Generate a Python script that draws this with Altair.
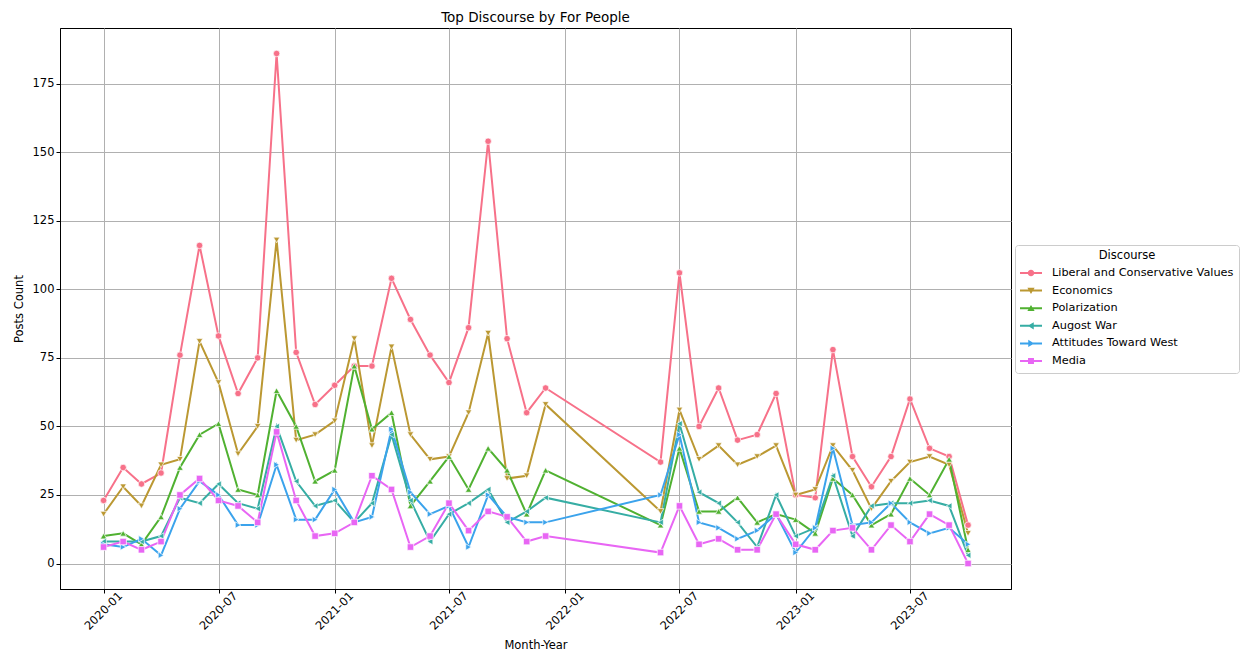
import altair as alt
import pandas as pd

months = [
    "2020-01", "2020-02", "2020-03", "2020-04", "2020-05", "2020-06",
    "2020-07", "2020-08", "2020-09", "2020-10", "2020-11", "2020-12",
    "2021-01", "2021-02", "2021-03", "2021-04", "2021-05", "2021-06",
    "2021-07", "2021-08", "2021-09", "2021-10", "2021-11", "2021-12",
    "2022-06", "2022-07", "2022-08", "2022-09", "2022-10", "2022-11", "2022-12",
    "2023-01", "2023-02", "2023-03", "2023-04", "2023-05", "2023-06",
    "2023-07", "2023-08", "2023-09", "2023-10",
]

liberal = [23, 35, 29, 33, 76, 116, 83, 62, 75, 186, 77, 58,
           65, 72, 72, 104, 89, 76, 66, 86, 154, 82, 55, 64,
           37, 106, 50, 64, 45, 47, 62,
           25, 24, 78, 39, 28, 39, 60, 42, 39, 14]
economics = [18, 28, 21, 36, 38, 81, 66, 40, 50, 118, 45, 47,
             52, 82, 43, 79, 47, 38, 39, 55, 84, 31, 32, 58,
             19, 56, 38, 43, 36, 39, 43,
             25, 27, 43, 34, 20, 30, 37, 39, 36, 11]
polarization = [10, 11, 7, 17, 35, 47, 51, 27, 25, 63, 50, 30,
                34, 72, 49, 55, 21, 30, 39, 27, 42, 34, 18, 34,
                14, 42, 19, 19, 24, 15, 18,
                16, 11, 31, 25, 14, 18, 31, 25, 38, 5]
augost_war = [8, 8, 8, 10, 24, 22, 29, 22, 20, 50, 30, 21,
              23, 15, 22, 47, 23, 8, 18, 22, 27, 15, 19, 24,
              15, 51, 26, 22, 15, 6, 25,
              10, 13, 32, 10, 21, 22, 22, 23, 21, 3]
attitudes_west = [7, 6, 9, 3, 20, 30, 25, 14, 14, 36, 16, 16,
                  27, 15, 17, 49, 26, 18, 21, 6, 25, 17, 15, 15,
                  25, 47, 15, 13, 9, 12, 18,
                  4, 13, 42, 14, 15, 22, 15, 11, 13, 7]
media = [6, 8, 5, 8, 25, 31, 23, 21, 15, 48, 23, 10,
         11, 15, 32, 27, 6, 10, 22, 12, 19, 17, 8, 10,
         4, 21, 7, 9, 5, 5, 18,
         7, 5, 12, 13, 5, 14, 8, 18, 14, 0]

series_names = ["Liberal and Conservative Values", "Economics", "Polarization",
                "Augost War", "Attitudes Toward West", "Media"]
series_values = [liberal, economics, polarization, augost_war, attitudes_west, media]
colors = ["#f77189", "#bb9832", "#50b131", "#36ada4", "#3ba3ec", "#e866f4"]
shapes = ["circle", "triangle-down", "triangle-up", "triangle-left", "triangle-right", "square"]
y_ticks = [0, 25, 50, 75, 100, 125, 150, 175]
x_tick_months = [(2020, 1), (2020, 7), (2021, 1), (2021, 7), (2022, 1), (2022, 7), (2023, 1), (2023, 7)]

# legend glyphs: a short line with the marker on it (unit square -1..1)
LINE = "M-1,-0.09 L1,-0.09 L1,0.09 L-1,0.09 Z "
legend_glyphs = [
    LINE + "M-0.3,0 A0.3,0.3 0 1,1 0.3,0 A0.3,0.3 0 1,1 -0.3,0 Z",
    LINE + "M-0.33,-0.25 L0.33,-0.25 L0,0.3 Z",
    LINE + "M0,-0.3 L0.33,0.25 L-0.33,0.25 Z",
    LINE + "M0.25,-0.33 L0.25,0.33 L-0.3,0 Z",
    LINE + "M-0.25,-0.33 L0.3,0 L-0.25,0.33 Z",
    LINE + "M-0.27,-0.27 L0.27,-0.27 L0.27,0.27 L-0.27,0.27 Z",
]

rows = []
for name, vals in zip(series_names, series_values):
    for m, v in zip(months, vals):
        rows.append({"Month": m + "-01", "Discourse": name, "Posts": v})
df = pd.DataFrame(rows)

FONT = "DejaVu Sans"

x_enc = alt.X(
    "Month:T",
    title="Month-Year",
    scale=alt.Scale(
        type="utc",
        domain=[alt.DateTime(year=2019, month=10, date=24, utc=True),
                alt.DateTime(year=2023, month=12, date=8, utc=True)],
    ),
    axis=alt.Axis(
        values=[alt.DateTime(year=yy, month=mm, date=1, utc=True) for yy, mm in x_tick_months],
        labelExpr="utcFormat(datum.value, '%Y-%m')",
        labelAngle=315,
        labelAlign="center",
        labelBaseline="middle",
        labelPadding=18,
        titleY=56,
        titleBaseline="middle",
    ),
)
y_enc = alt.Y(
    "Posts:Q",
    title="Posts Count",
    scale=alt.Scale(domain=[-9.3, 195.3], nice=False, zero=False),
    axis=alt.Axis(values=y_ticks, titlePadding=8),
)

color_scale = alt.Scale(domain=series_names, range=colors)

lines = alt.Chart(df).mark_line(strokeWidth=2).encode(
    x=x_enc, y=y_enc, color=alt.Color("Discourse:N", scale=color_scale, legend=None)
)
points = alt.Chart(df).mark_point(filled=True, size=42, stroke="white", strokeWidth=0.7, opacity=1).encode(
    x=x_enc, y=y_enc,
    color=alt.Color("Discourse:N", scale=color_scale, legend=None),
    shape=alt.Shape("Discourse:N", scale=alt.Scale(domain=series_names, range=shapes), legend=None),
)
# legend-only layer: no rows drawn, its scales carry the legend entries
legend_layer = alt.Chart(df).transform_filter("false").mark_point(filled=True, opacity=1).encode(
    x=x_enc, y=y_enc,
    color=alt.Color(
        "Discourse:N", scale=color_scale,
        legend=alt.Legend(
            title="Discourse",
            orient="none",
            legendX=955,
            legendY=217,
            titleAnchor="middle",
            titleAlign="center",
            titleFontWeight="normal",
            titleFontSize=11.5,
            titleFont=FONT,
            titleColor="black",
            titlePadding=5,
            labelFontSize=11.3,
            labelFont=FONT,
            labelColor="black",
            labelLimit=400,
            labelOffset=10,
            padding=5,
            rowPadding=4.6,
            clipHeight=13,
            symbolSize=484,
            symbolOpacity=1,
            symbolStrokeWidth=0,
            symbolOffset=0,
            strokeColor="#cccccc",
            cornerRadius=3,
        ),
    ),
    shape=alt.Shape("Discourse:N", scale=alt.Scale(domain=series_names, range=legend_glyphs)),
)

chart = (
    alt.layer(lines, points, legend_layer)
    .resolve_scale(color="independent", shape="independent")
    .resolve_legend(color="independent", shape="independent")
    .properties(
        width=951,
        height=561,
        title=alt.TitleParams("Top Discourse by For People", fontSize=13.5, fontWeight="normal",
                              font=FONT, color="black", anchor="middle", offset=4),
        autosize=alt.AutoSizeParams(type="none"),
        padding={"left": 52, "top": 20, "right": 229, "bottom": 62},
    )
    .configure_view(stroke="black", strokeWidth=1)
    .configure_axis(
        labelFont=FONT, titleFont=FONT, labelFontSize=11.5, titleFontSize=11.5,
        titleFontWeight="normal", labelColor="black", titleColor="black",
        domainColor="black", tickColor="black", tickSize=4, domainWidth=1,
        gridColor="#b0b0b0", gridWidth=1, grid=True,
    )
)

chart.save("out.html", embed_options={"renderer": "svg", "actions": False})
